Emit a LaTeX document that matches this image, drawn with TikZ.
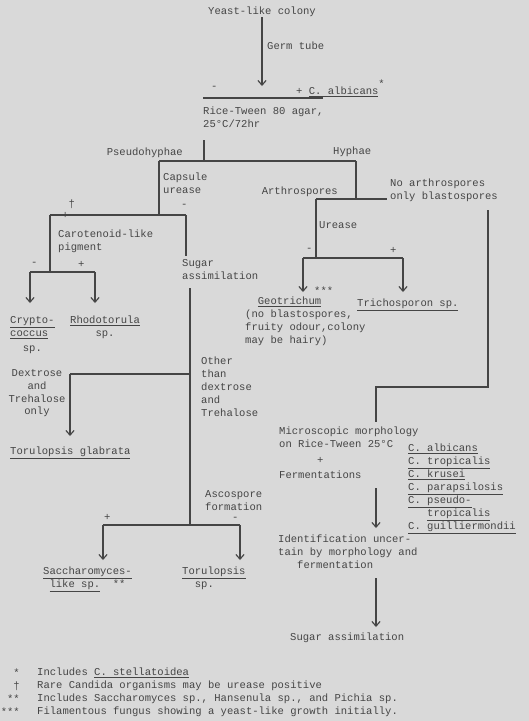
\documentclass[tikz,border=0pt]{standalone}
\usepackage{fontspec}
\setmonofont{Liberation Mono}
\usetikzlibrary{positioning,arrows.meta}

\definecolor{paper}{HTML}{D9D9D9}
\definecolor{ink}{HTML}{454545}

\tikzset{
  lbl/.style={font=\ttfamily\fontsize{9}{11}\selectfont, text=ink, inner sep=0pt, anchor=west},
  blk/.style={lbl, align=left, anchor=north west},
  ln/.style={draw=ink, line width=1pt},
  arr/.style={ln, -{Straight Barb[length=4pt,width=7pt]}}
}

\begin{document}
\begin{tikzpicture}[x=0.03cm, y=-0.03cm]

\useasboundingbox (0,0) rectangle (529,721);
\fill[paper] (0,0) rectangle (529,721);

% germ tube
\node[lbl, anchor=center] (colony) at (262,12) {Yeast-like colony};
\node[lbl] (germ) at (267,46) {Germ tube};
\node[lbl] (minusA) at (211,88) {-};
\node[lbl] (albicans) at (296,88) {+ \underline{C. albicans}\raisebox{6pt}{*}};
\node[blk] (agar) at (203,107) {Rice-Tween 80 agar,\\25°C/72hr};

\coordinate (tubeEnd) at (262,86);
\coordinate (barL) at (203,98);
\coordinate (barR) at (323,98);
\draw[arr] (colony) -- (tubeEnd);
\draw[ln] (barL) -- (barR);

% pseudohyphae / hyphae
\coordinate (agarOut) at (204,140);
\coordinate (split) at (204,161);
\coordinate (pseudoJ) at (159,161);
\coordinate (hyphJ) at (356,161);
\draw[ln] (agarOut) -- (split);
\draw[ln] (pseudoJ) -- (hyphJ);
\node[lbl, anchor=east] (pseudo) at (183,153) {Pseudohyphae};
\node[lbl] (hyphae) at (333,152) {Hyphae};

% capsule / urease
\node[blk] (capsule) at (163,173) {Capsule\\urease};
\node[lbl] (minusB) at (181,206) {-};
\node[lbl] (plusB) at (62,209) {+\raisebox{9pt}{†}};
\coordinate (capM) at (159,215);
\coordinate (capL) at (50,215);
\coordinate (capR) at (186,215);
\draw[ln] (pseudoJ) -- (capM);
\draw[ln] (capL) -- (capR);

% pigment
\node[blk] (pigment) at (58,230) {Carotenoid-like\\pigment};
\coordinate (pigM) at (50,272);
\coordinate (pigL) at (30,272);
\coordinate (pigR) at (95,272);
\draw[ln] (capL) -- (pigM);
\draw[ln] (pigL) -- (pigR);
\node[lbl] (minusC) at (31,264) {-};
\node[lbl] (plusC) at (78,264) {+};
\draw[arr] (pigL) -- ++(0,31);
\draw[arr] (pigR) -- ++(0,31);
\node[blk] (crypto) at (10,316) {\underline{Crypto-}\\\underline{coccus}\\[2pt]\ \ sp.};
\node[blk, align=center] (rhodo) at (70,316) {\underline{Rhodotorula}\\sp.};

% sugar assimilation
\node[blk] (sugar) at (182,259) {Sugar\\assimilation};
\coordinate (sugarOut) at (190,288);
\coordinate (dexL) at (70,374);
\coordinate (dexR) at (190,374);
\coordinate (ascM) at (190,525);
\coordinate (ascL) at (103,525);
\coordinate (ascR) at (240,525);
\draw[ln] (capR) -- ++(0,41);
\draw[ln] (sugarOut) -- (ascM);
\draw[ln] (dexL) -- (dexR);
\draw[arr] (dexL) -- ++(0,62);
\node[blk, align=center, anchor=north] (dextrose) at (37,369) {Dextrose\\and\\Trehalose\\only};
\node[lbl] (glabrata) at (10,453) {\underline{Torulopsis glabrata}};
\node[blk] (other) at (201,357) {Other\\than\\dextrose\\and\\Trehalose};

% ascospores
\node[blk] (asco) at (205,490) {Ascospore\\formation};
\node[lbl] (plusD) at (104,517) {+};
\node[lbl] (minusD) at (232,519) {-};
\draw[ln] (ascL) -- (ascR);
\draw[arr] (ascL) -- ++(0,35);
\draw[arr] (ascR) -- ++(0,35);
\node[blk] (sacch) at (43,567) {\underline{Saccharomyces-}\\\ \underline{like sp.}\ \ **};
\node[blk] (torul) at (182,567) {\underline{Torulopsis}\\\ \ sp.};

% arthrospores
\coordinate (arthJ) at (356,199);
\coordinate (arthL) at (316,199);
\coordinate (blastR) at (387,199);
\draw[ln] (hyphJ) -- (arthJ);
\draw[ln] (arthL) -- (blastR);
\node[lbl, anchor=east] (arthro) at (338,192) {Arthrospores};
\node[blk] (noarth) at (390,179) {No arthrospores\\only blastospores};

% urease
\node[lbl] (urease) at (319,225) {Urease};
\coordinate (ureM) at (316,258);
\coordinate (ureL) at (303,258);
\coordinate (ureR) at (403,258);
\draw[ln] (arthL) -- (ureM);
\draw[ln] (ureL) -- (ureR);
\node[lbl] (minusE) at (306,250) {-};
\node[lbl] (plusE) at (390,250) {+};
\draw[arr] (ureL) -- ++(0,34);
\draw[arr] (ureR) -- ++(0,34);
\node[lbl] (geoStar) at (314,291) {***};
\node[blk] (geo) at (245,297) {\ \ \underline{Geotrichum}\\(no blastospores,\\fruity odour,colony\\may be hairy)};
\node[lbl] (tricho) at (357,305) {\underline{Trichosporon sp.}};

% blastospores only
\coordinate (blastOut) at (488,210);
\coordinate (blastDn) at (488,387);
\coordinate (microIn) at (376,387);
\draw[ln] (blastOut) -- (blastDn) -- (microIn) -- ++(0,35);
\node[blk] (micro) at (279,427) {Microscopic morphology\\on Rice-Tween 25°C\\[2pt]\ \ \ \ \ \ +\\[2pt]Fermentations};
\node[blk] (candida) at (408,444) {\underline{C. albicans}\\\underline{C. tropicalis}\\\underline{C. krusei}\\\underline{C. parapsilosis}\\\underline{C. pseudo-}\\\ \ \ \underline{tropicalis}\\\underline{C. guilliermondii}};
\coordinate (microOut) at (376,488);
\draw[arr] (microOut) -- ++(0,40);
\node[blk] (ident) at (278,535) {Identification uncer-\\tain by morphology and\\\ \ \ fermentation};
\coordinate (identOut) at (376,578);
\draw[arr] (identOut) -- ++(0,49);
\node[lbl] (sugarAs) at (290,638) {Sugar assimilation};

% footnotes
\node[lbl, anchor=east] (fnA) at (20,673) {*};
\node[lbl, anchor=east] (fnB) at (20,686) {†};
\node[lbl, anchor=east] (fnC) at (20,699) {**};
\node[lbl, anchor=east] (fnD) at (20,712) {***};
\node[lbl] (noteA) at (37,673) {Includes \underline{C. stellatoidea}};
\node[lbl] (noteB) at (37,686) {Rare Candida organisms may be urease positive};
\node[lbl] (noteC) at (37,699) {Includes Saccharomyces sp., Hansenula sp., and Pichia sp.};
\node[lbl] (noteD) at (37,712) {Filamentous fungus showing a yeast-like growth initially.};

\end{tikzpicture}
\end{document}
